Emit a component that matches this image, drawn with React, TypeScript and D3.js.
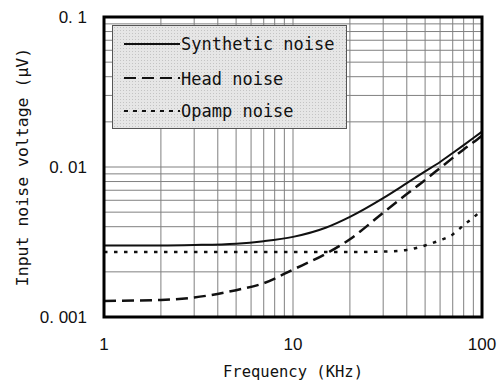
import React from 'react';
import * as d3 from 'd3';

// frequency points (KHz) and noise voltages
const freqs = [1, 2, 3, 5, 7, 10, 15, 20, 30, 40, 50, 60, 70, 80, 90, 100];
const synthetic = [0.0030, 0.0030, 0.00302, 0.00308, 0.0032, 0.00342, 0.00395, 0.00465, 0.0062, 0.0078, 0.00935, 0.0108, 0.0124, 0.014, 0.0156, 0.0172];
const head = [0.00128, 0.0013, 0.00135, 0.00151, 0.00168, 0.00207, 0.00265, 0.0033, 0.00496, 0.0066, 0.0082, 0.00985, 0.0115, 0.0131, 0.0146, 0.0162];
const opamp = [0.00271, 0.00271, 0.00271, 0.00271, 0.00271, 0.00271, 0.00271, 0.00271, 0.00273, 0.0028, 0.003, 0.00325, 0.00355, 0.0041, 0.0046, 0.0052];

const xTicks = [1, 10, 100];
const xTickLabels = ['1', '10', '100'];
const yTicks = [0.1, 0.01, 0.001];
const yTickLabels = ['0. 1', '0. 01', '0. 001'];
const seriesNames = ['Synthetic noise', 'Head noise', 'Opamp noise'];

const W = 498;
const H = 382;
const left = 104, right = 482, top = 17, bottom = 317;

const mono = '"DejaVu Sans Mono", monospace';
const sans = '"Liberation Sans", Arial, sans-serif';

export default function App() {
  const x = d3.scaleLog().domain([1, 100]).range([left, right]);
  const y = d3.scaleLog().domain([0.001, 0.1]).range([bottom, top]);

  // minor grid values for each decade
  const xGrid: number[] = [];
  for (const d of [1, 10]) for (let k = 2; k <= 9; k++) xGrid.push(d * k);
  xGrid.push(10);
  const yGrid: number[] = [];
  for (const d of [0.001, 0.01]) for (let k = 2; k <= 9; k++) yGrid.push(d * k);
  yGrid.push(0.01);

  const line = d3.line<number>()
    .x((_, i) => x(freqs[i]))
    .y(d => y(d))
    .curve(d3.curveMonotoneX);

  const styles = [
    { dash: undefined, width: 2 },
    { dash: '12 6', width: 2.5 },
    { dash: '3.5 6.5', width: 2.5 },
  ];
  const legendDash = [undefined, '12 6', '4 5'];
  const series = [synthetic, head, opamp];

  const legendRows = [44, 78, 111];
  const legendText = [50, 85, 117];

  return (
    <svg width={W} height={H} style={{ position: 'absolute', left: 0, top: 0, background: '#fff' }}>
      <defs>
        <pattern id="stipple" width="3" height="3" patternUnits="userSpaceOnUse">
          <rect width="3" height="3" fill="#e6e6e6" />
          <rect width="1" height="1" fill="#c4c4c4" />
        </pattern>
      </defs>

      {/* grid */}
      {xGrid.map(v => (
        <line key={'gx' + v} x1={x(v)} x2={x(v)} y1={top} y2={bottom} stroke="#808080" strokeWidth={1} />
      ))}
      {yGrid.map(v => (
        <line key={'gy' + v} x1={left} x2={right} y1={y(v)} y2={y(v)} stroke="#808080" strokeWidth={1} />
      ))}

      {/* curves */}
      {series.map((s, i) => (
        <path key={'s' + i} d={line(s) || ''} fill="none" stroke="#111"
          strokeWidth={styles[i].width} strokeDasharray={styles[i].dash} />
      ))}

      {/* legend */}
      <rect x={112.5} y={25.5} width={234} height={103} fill="url(#stipple)" stroke="#555" strokeWidth={1} />
      {seriesNames.map((name, i) => (
        <g key={name}>
          <line x1={124} x2={180} y1={legendRows[i]} y2={legendRows[i]} stroke="#111"
            strokeWidth={2} strokeDasharray={legendDash[i]} />
          <text x={181} y={legendText[i]} fontFamily={mono} fontSize={17} fill="#111">{name}</text>
        </g>
      ))}

      {/* frame */}
      <rect x={left} y={top} width={right - left} height={bottom - top} fill="none" stroke="#000" strokeWidth={3} />

      {/* tick labels */}
      {yTicks.map((v, i) => (
        <text key={'yt' + v} x={87} y={y(v) + 6} textAnchor="end" fontFamily={sans} fontSize={17} fill="#111">
          {yTickLabels[i]}
        </text>
      ))}
      {xTicks.map((v, i) => (
        <text key={'xt' + v} x={x(v)} y={350} textAnchor="middle" fontFamily={sans} fontSize={17} fill="#111">
          {xTickLabels[i]}
        </text>
      ))}

      {/* axis titles */}
      <text x={x(10)} y={377} textAnchor="middle" fontFamily={mono} fontSize={15.5} fill="#111">
        Frequency (KHz)
      </text>
      <text transform={`translate(22,${(top + bottom) / 2}) rotate(-90)`} textAnchor="middle"
        dominantBaseline="central" fontFamily={mono} fontSize={16.5} fill="#111">
        Input noise voltage (μV)
      </text>
    </svg>
  );
}
